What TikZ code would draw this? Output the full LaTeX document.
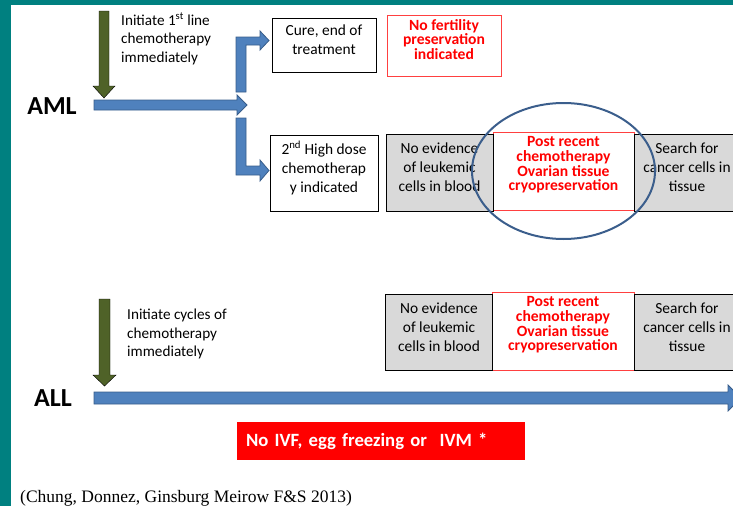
\documentclass[tikz,border=0pt]{standalone}
\usepackage{fontspec}
\setmainfont{Carlito}
\newfontfamily\citefont{Liberation Serif}
\definecolor{slideteal}{HTML}{008080}
\definecolor{arrowblue}{HTML}{4F81BD}
\definecolor{arrowedge}{HTML}{385D8A}
\definecolor{arrowgreen}{HTML}{4F6228}
\definecolor{boxgrey}{HTML}{D9D9D9}
\definecolor{boxred}{HTML}{FF4040}
\definecolor{textred}{HTML}{FF0000}
\definecolor{ellipseblue}{HTML}{3B5E8C}
\begin{document}
\begin{tikzpicture}[x=1pt,y=-1pt,
		plainbox/.style={draw=black,fill=white,line width=0.8pt,inner sep=0pt},
		greybox/.style={plainbox,fill=boxgrey},
		redbox/.style={plainbox,draw=boxred},
		alertbox/.style={fill=textred,text=white,align=left,inner xsep=9pt,text width=270pt,minimum height=38pt,font=\fontsize{18.7}{19}\selectfont\bfseries},
		boxtext/.style={align=center,font=\fontsize{15.4}{19}\selectfont,yshift=5pt},
		redtext/.style={align=center,text=textred,font=\fontsize{15.6}{14.6}\selectfont\bfseries,yshift=6pt},
		steptext/.style={align=left,anchor=north west,inner sep=0pt,font=\fontsize{15.2}{18.5}\selectfont},
		disease/.style={font=\fontsize{26}{26}\selectfont\bfseries},
		bluearrow/.style={fill=arrowblue,draw=arrowedge,line width=0.8pt},
		greenarrow/.style={fill=arrowgreen}]
		\useasboundingbox (0,0) rectangle (733,506);
		
		% Slide frame.
		\fill[slideteal] (0,0) rectangle (733,5);
		\fill[slideteal] (0,0) rectangle (11,506);
		
		% AML branch.
		\node[disease] (aml) at (52,106) {AML};
		\draw[greenarrow] (99,11) -- (109,11) -- (109,86) -- (115,86) -- (104,98) -- (93,86) -- (99,86) -- cycle;
		\node[steptext] (aml step) at (121,13) {Initiate 1\textsuperscript{st} line\\chemotherapy\\immediately};
		\draw[bluearrow] (94,100) -- (237,100) -- (237,95) -- (247,105) -- (237,115) -- (237,110) -- (94,110) -- cycle;
		\draw[bluearrow] (236,92) -- (236,37) -- (260,37) -- (260,31) -- (269,40.5) -- (260,50) -- (260,45) -- (246,45) -- (246,92) -- cycle;
		\draw[bluearrow] (236,118) -- (236,175) -- (260,175) -- (260,181) -- (269,170.5) -- (260,160) -- (260,166) -- (246,166) -- (246,118) -- cycle;
		
		\node[plainbox,minimum width=104pt,minimum height=54pt,label={[boxtext]center:{Cure, end of\\treatment}}] (cure) at (324,45) {};
		\node[redbox,minimum width=114pt,minimum height=61pt,label={[redtext]center:{No fertility\\preservation\\indicated}}] (no fertility) at (444,45.5) {};
		\node[plainbox,minimum width=108pt,minimum height=76pt,label={[boxtext]center:{2\textsuperscript{nd} High dose\\chemotherap\\y indicated}}] (high dose) at (324,173) {};
		\node[redbox,minimum width=141pt,minimum height=78pt,label={[redtext]center:{Post recent\\chemotherapy\\Ovarian tissue\\cryopreservation}}] (aml cryo) at (563.5,171) {};
		\node[greybox,minimum width=107pt,minimum height=77pt,label={[boxtext]center:{No evidence\\of leukemic\\cells in blood}}] (aml evidence) at (439.5,172.5) {};
		\node[greybox,minimum width=106pt,minimum height=77pt,label={[boxtext]center:{Search for\\cancer cells in\\tissue}}] (aml search) at (687,172.5) {};
		\draw[ellipseblue,line width=2pt] (aml cryo.center) ellipse [x radius=91.5pt,y radius=68pt];
		
		% ALL branch.
		\node[disease] (all) at (53,398) {ALL};
		\draw[greenarrow] (99,299) -- (110,299) -- (110,375) -- (116,375) -- (104.5,386) -- (93,375) -- (99,375) -- cycle;
		\node[steptext] (all step) at (127,309) {Initiate cycles of\\chemotherapy\\immediately};
		\draw[bluearrow] (94,392) -- (728,392) -- (728,385) -- (741,398) -- (728,411) -- (728,404) -- (94,404) -- cycle;
		
		\node[redbox,minimum width=142pt,minimum height=78pt,label={[redtext]center:{Post recent\\chemotherapy\\Ovarian tissue\\cryopreservation}}] (all cryo) at (563,331) {};
		\node[greybox,minimum width=107pt,minimum height=76pt,label={[boxtext]center:{No evidence\\of leukemic\\cells in blood}}] (all evidence) at (439,332) {};
		\node[greybox,minimum width=106pt,minimum height=76pt,label={[boxtext]center:{Search for\\cancer cells in\\tissue}}] (all search) at (687,332) {};
		
		\node[alertbox] (no ivf) at (381,441) {No IVF, egg freezing or~~IVM *};
		
		% Reference.
		\node[anchor=base west,inner sep=0pt,font=\citefont\fontsize{17.5}{17.5}\selectfont] (cite) at (20,502) {(Chung, Donnez, Ginsburg Meirow F\&S 2013)};
	\end{tikzpicture}
\end{document}
